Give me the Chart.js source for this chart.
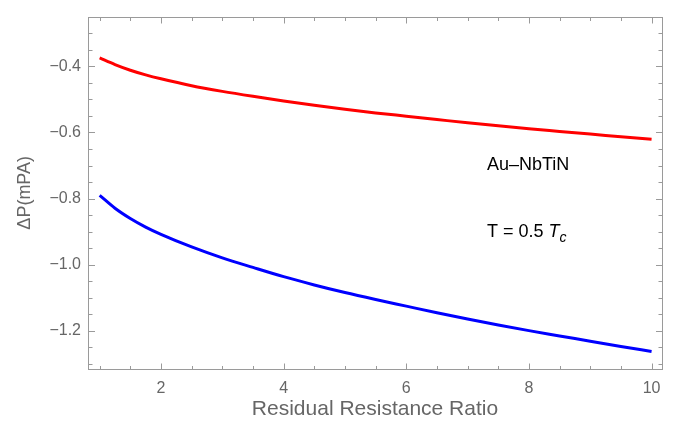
<!DOCTYPE html>
<html>
<head>
<meta charset="utf-8">
<script src="https://cdn.jsdelivr.net/npm/chart.js@4"></script>
<style>
  html, body { margin: 0; padding: 0; background: #fff; }
  #wrap { width: 675px; height: 422px; position: relative; }
</style>
</head>
<body>
<div id="wrap"><canvas id="chart"></canvas></div>
<script>
// residual resistance ratio (x) and the two curves
const rrr = [1, 1.25, 1.5, 1.75, 2, 2.5, 3, 3.5, 4, 4.5, 5, 5.5, 6, 6.5, 7, 7.5, 8, 8.5, 9, 9.5, 10];
const redCurve = [-0.375, -0.395, -0.412, -0.426, -0.438, -0.459, -0.476, -0.491, -0.505, -0.518, -0.530,
                  -0.541, -0.551, -0.561, -0.571, -0.580, -0.589, -0.597, -0.605, -0.613, -0.621];
const blueCurve = [-0.790, -0.829, -0.860, -0.886, -0.908, -0.946, -0.979, -1.008, -1.036, -1.061, -1.084,
                   -1.105, -1.125, -1.145, -1.164, -1.182, -1.199, -1.215, -1.231, -1.247, -1.262];

// tick positions
const xMajor = [2, 4, 6, 8, 10];
const xMinor = [1, 1.5, 2.5, 3, 3.5, 4.5, 5, 5.5, 6.5, 7, 7.5, 8.5, 9, 9.5];
const yMajor = [-1.2, -1.0, -0.8, -0.6, -0.4];
const yMinor = [-1.3, -1.25, -1.15, -1.1, -1.05, -0.95, -0.9, -0.85, -0.75, -0.7, -0.65, -0.55, -0.5, -0.45, -0.35, -0.3];

const FONT = "'Liberation Sans', Arial, sans-serif";
const GRAY = '#666666';
const FRAME = '#9a9a9a';

const toPoints = (xs, ys) => xs.map((x, i) => ({ x: x, y: ys[i] }));

// 프레임 + 안쪽으로 향하는 눈금, 그리고 주석 텍스트
const framePlugin = {
    id: 'frame',
    afterDraw(chart) {
        const { ctx, chartArea: a, scales: { x, y } } = chart;
        ctx.save();
        ctx.strokeStyle = FRAME;
        ctx.lineWidth = 1;
        const L = Math.round(a.left) + 0.5, R = Math.round(a.right) + 0.5;
        const T = Math.round(a.top) + 0.5, B = Math.round(a.bottom) + 0.5;
        ctx.strokeRect(L, T, R - L, B - T);

        ctx.beginPath();
        const xTick = (v, len) => {
            const px = Math.round(x.getPixelForValue(v)) + 0.5;
            ctx.moveTo(px, B); ctx.lineTo(px, B - len);
            ctx.moveTo(px, T); ctx.lineTo(px, T + len);
        };
        const yTick = (v, len) => {
            const py = Math.round(y.getPixelForValue(v)) + 0.5;
            ctx.moveTo(L, py); ctx.lineTo(L + len, py);
            ctx.moveTo(R, py); ctx.lineTo(R - len, py);
        };
        xMajor.forEach(v => xTick(v, 6));
        xMinor.forEach(v => xTick(v, 3.5));
        yMajor.forEach(v => yTick(v, 6.5));
        yMinor.forEach(v => yTick(v, 4));
        ctx.stroke();

        // annotations
        ctx.fillStyle = '#000';
        ctx.textBaseline = 'alphabetic';
        ctx.textAlign = 'left';
        const ax = 487;
        ctx.font = `18px ${FONT}`;
        ctx.fillText('Au–NbTiN', ax, 170);
        const s = 'T = 0.5 ';
        ctx.fillText(s, ax, 237);
        let w = ctx.measureText(s).width;
        ctx.font = `italic 18px ${FONT}`;
        ctx.fillText('T', ax + w, 237);
        w += ctx.measureText('T').width;
        ctx.font = `italic 14px ${FONT}`;
        ctx.fillText('c', ax + w, 242);
        ctx.restore();
    }
};

new Chart(document.getElementById('chart'), {
    type: 'line',
    data: {
        datasets: [
            {
                data: toPoints(rrr, redCurve),
                borderColor: '#ff0000',
                borderWidth: 3,
                pointRadius: 0,
                cubicInterpolationMode: 'monotone'
            },
            {
                data: toPoints(rrr, blueCurve),
                borderColor: '#0000ff',
                borderWidth: 3,
                pointRadius: 0,
                cubicInterpolationMode: 'monotone'
            }
        ]
    },
    options: {
        responsive: true,
        maintainAspectRatio: false,
        animation: false,
        layout: { padding: { top: 15, right: 13, left: 0, bottom: 0 } },
        plugins: {
            legend: { display: false },
            tooltip: { enabled: false }
        },
        scales: {
            x: {
                type: 'linear',
                min: 0.81,
                max: 10.17,
                grid: { display: false, drawTicks: false },
                border: { display: false },
                afterBuildTicks: scale => { scale.ticks = xMajor.map(v => ({ value: v })); },
                afterFit: scale => { scale.height = 53; },
                ticks: {
                    font: { family: FONT, size: 16 },
                    color: GRAY,
                    padding: 10,
                    maxRotation: 0,
                    callback: v => String(v)
                },
                title: {
                    display: true,
                    text: 'Residual Resistance Ratio',
                    font: { family: FONT, size: 21 },
                    color: GRAY,
                    padding: { top: 0, bottom: 0 }
                }
            },
            y: {
                min: -1.315,
                max: -0.25,
                grid: { display: false, drawTicks: false },
                border: { display: false },
                afterBuildTicks: scale => { scale.ticks = yMajor.map(v => ({ value: v })); },
                afterFit: scale => { scale.width = 88; },
                ticks: {
                    font: { family: FONT, size: 16 },
                    color: GRAY,
                    padding: 7,
                    callback: v => v.toFixed(1).replace('-', '−')
                },
                title: {
                    display: true,
                    text: 'ΔP(mPA)',
                    font: { family: FONT, size: 18 },
                    color: GRAY,
                    padding: { top: 14, bottom: 0 }
                }
            }
        }
    },
    plugins: [framePlugin]
});
</script>
</body>
</html>
